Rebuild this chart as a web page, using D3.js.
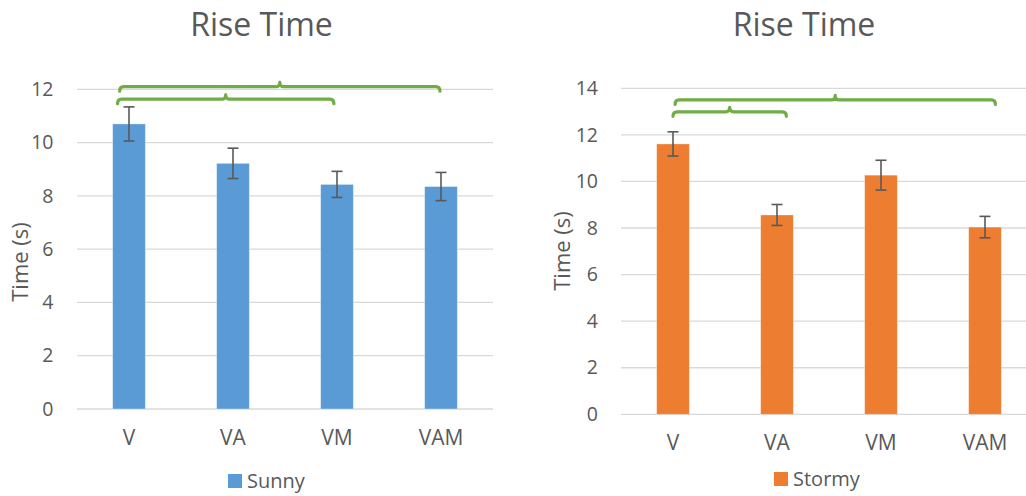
<!DOCTYPE html>
<html>
<head>
<meta charset="utf-8">
<script src="https://cdn.jsdelivr.net/npm/d3@7"></script>
<style>
  body { margin: 0; background: #fff; }
  svg { display: block; font-family: "Open Sans", "Noto Sans", sans-serif; }
</style>
</head>
<body>
<svg id="chart" width="1026" height="496"></svg>
<script>
// ---- data ----
const categories = ["V", "VA", "VM", "VAM"];
const sunnyValues = [10.70, 9.22, 8.43, 8.35];
const sunnyErrors = [0.64, 0.57, 0.49, 0.53];
const stormyValues = [11.61, 8.56, 10.27, 8.04];
const stormyErrors = [0.52, 0.45, 0.64, 0.46];
const sunnyTicks = [0, 2, 4, 6, 8, 10, 12];
const stormyTicks = [0, 2, 4, 6, 8, 10, 12, 14];
// significance brackets: start/end as fractional category index, level in data units
const sunnyBrackets = [
  { from: -0.09, to: 2.99, level: 12.10 },
  { from: -0.11, to: 1.97, level: 11.63 }
];
const stormyBrackets = [
  { from: 0.02, to: 3.10, level: 13.50 },
  { from: 0.00, to: 1.09, level: 12.99 }
];

const svg = d3.select("#chart");
const textColor = "#595959";

function drawChart(cfg) {
  const g = svg.append("g");
  const x = d3.scaleBand().domain(categories).range([cfg.x0, cfg.x1]).paddingInner(0.686).paddingOuter(0.343);
  const y = d3.scaleLinear().domain([0, cfg.yMax]).range([cfg.yBottom, cfg.yTop]);
  const xi = d3.scaleLinear().domain([0, 1]).range([x(categories[0]) + x.bandwidth() / 2, x(categories[1]) + x.bandwidth() / 2]);

  // gridlines
  g.append("g").selectAll("line").data(cfg.ticks).join("line")
    .attr("x1", cfg.x0).attr("x2", cfg.x1)
    .attr("y1", d => y(d)).attr("y2", d => y(d))
    .attr("stroke", "#d9d9d9").attr("stroke-width", 1.3);

  // y axis labels
  const yAxis = d3.axisLeft(y).tickValues(cfg.ticks).tickSize(0).tickPadding(0);
  const ya = g.append("g").attr("transform", `translate(${cfg.tickX},0)`).call(yAxis);
  ya.select(".domain").remove();
  ya.selectAll("text").attr("fill", textColor).style("font-size", "19.5px")
    .style("font-family", '"Open Sans", sans-serif');

  // x axis labels
  const xAxis = d3.axisBottom(x).tickSize(0).tickPadding(0);
  const xa = g.append("g").attr("transform", `translate(0,${cfg.yBottom + 21})`).call(xAxis);
  xa.select(".domain").remove();
  xa.selectAll("text").attr("fill", textColor).style("font-size", "21px")
    .style("font-family", '"Open Sans", sans-serif');

  // bars
  const data = categories.map((c, i) => ({ c, v: cfg.values[i], e: cfg.errors[i] }));
  g.append("g").selectAll("rect").data(data).join("rect")
    .attr("x", d => x(d.c)).attr("width", x.bandwidth())
    .attr("y", d => y(d.v)).attr("height", d => y(0) - y(d.v))
    .attr("fill", cfg.color).attr("stroke", "#ffffff").attr("stroke-opacity", 0.4).attr("stroke-width", 0.8);

  // error bars
  const eb = g.append("g").attr("stroke", "#595959").attr("stroke-width", 1.6).attr("fill", "none");
  const cap = 5.5;
  data.forEach(d => {
    const cx = x(d.c) + x.bandwidth() / 2;
    eb.append("line").attr("x1", cx).attr("x2", cx).attr("y1", y(d.v + d.e)).attr("y2", y(d.v - d.e));
    eb.append("line").attr("x1", cx - cap).attr("x2", cx + cap).attr("y1", y(d.v + d.e)).attr("y2", y(d.v + d.e));
    eb.append("line").attr("x1", cx - cap).attr("x2", cx + cap).attr("y1", y(d.v - d.e)).attr("y2", y(d.v - d.e));
  });

  // brackets
  g.append("g").selectAll("path").data(cfg.brackets).join("path")
    .attr("fill", "none").attr("stroke", "#70AD47").attr("stroke-width", 3.2)
    .attr("stroke-linecap", "round").attr("stroke-linejoin", "round")
    .attr("d", b => {
      const x1 = xi(b.from), x2 = xi(b.to), yy = y(b.level), xm = (x1 + x2) / 2;
      const r = 4, down = 4.5, tip = 4.5;
      return `M${x1},${yy + down} Q${x1},${yy} ${x1 + r},${yy} L${xm - r},${yy} Q${xm},${yy} ${xm},${yy - tip}` +
        ` Q${xm},${yy} ${xm + r},${yy} L${x2 - r},${yy} Q${x2},${yy} ${x2},${yy + down}`;
    });

  // title
  g.append("text").attr("x", cfg.titleX).attr("y", 36).attr("text-anchor", "middle")
    .attr("fill", textColor).style("font-size", "32px").text("Rise Time");

  // y-axis title
  g.append("text").attr("transform", `translate(${cfg.yTitleX},${cfg.yTitleY}) rotate(-90)`)
    .attr("text-anchor", "middle").attr("fill", textColor).style("font-size", "22px").text("Time (s)");

  // legend
  const lg = g.append("g").attr("transform", `translate(${cfg.legX},${cfg.legY})`);
  lg.append("rect").attr("x", 0).attr("y", 0).attr("width", 14).attr("height", 14).attr("fill", cfg.color);
  lg.append("text").attr("x", 19).attr("y", 14).attr("fill", textColor).style("font-size", "20px").text(cfg.name);
}

drawChart({
  x0: 77, x1: 493, yTop: 89.3, yBottom: 409, yMax: 12, ticks: sunnyTicks,
  values: sunnyValues, errors: sunnyErrors, brackets: sunnyBrackets,
  color: "#5B9BD5", name: "Sunny", tickX: 53.5, titleX: 261.5,
  yTitleX: 28, yTitleY: 262, legX: 228, legY: 474
});
drawChart({
  x0: 621, x1: 1037, yTop: 88.3, yBottom: 414.3, yMax: 14, ticks: stormyTicks,
  values: stormyValues, errors: stormyErrors, brackets: stormyBrackets,
  color: "#ED7D31", name: "Stormy", tickX: 598, titleX: 804,
  yTitleX: 570, yTitleY: 251, legX: 774, legY: 472
});
</script>
</body>
</html>
